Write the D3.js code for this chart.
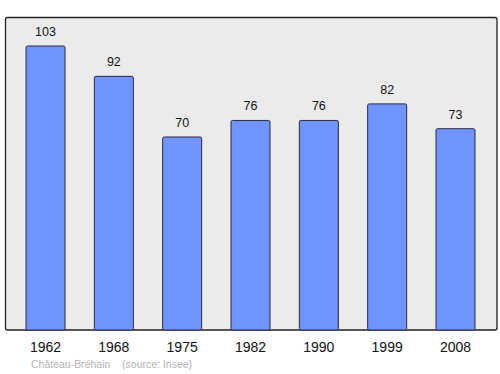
<!DOCTYPE html>
<html lang="fr">
<head>
  <meta charset="UTF-8" />
  <title>Château-Bréhain population</title>
  <script src="https://d3js.org/d3.v7.min.js"></script>
  <style>
    body { margin: 0; background: #fff; font-family: "Liberation Sans", Arial, sans-serif; }
    svg { display: block; }
  </style>
</head>
<body>
<svg id="chart" width="500" height="374"></svg>
<script>
const years = ["1962", "1968", "1975", "1982", "1990", "1999", "2008"];
const population = [103, 92, 70, 76, 76, 82, 73];

const svg = d3.select("#chart");

// plot frame
const frame = { left: 5.5, top: 17.5, right: 497, bottom: 330 };

svg.append("rect")
  .attr("x", frame.left)
  .attr("y", frame.top)
  .attr("width", frame.right - frame.left)
  .attr("height", frame.bottom - frame.top)
  .attr("rx", 2)
  .attr("fill", "#ebebeb")
  .attr("stroke", "#222")
  .attr("stroke-width", 1.3);

const x = d3.scalePoint().domain(years).range([45.5, 455.5]);
const y = d3.scaleLinear().domain([0, 103]).range([frame.bottom, 46]);
const barW = 39;

const data = years.map((yr, i) => ({ year: yr, value: population[i] }));

svg.selectAll(".bar")
  .data(data)
  .enter()
  .append("rect")
  .attr("class", "bar")
  .attr("x", d => x(d.year) - barW / 2)
  .attr("y", d => y(d.value))
  .attr("width", barW)
  .attr("height", d => y(0) - y(d.value))
  .attr("rx", 1.5)
  .attr("fill", "#7094ff")
  .attr("stroke", "#2a2a3a")
  .attr("stroke-width", 1);

svg.selectAll(".val")
  .data(data)
  .enter()
  .append("text")
  .attr("class", "val")
  .attr("x", d => x(d.year))
  .attr("y", d => y(d.value) - 10)
  .attr("text-anchor", "middle")
  .attr("font-size", 12.5)
  .attr("fill", "#111")
  .text(d => d.value);

svg.selectAll(".yr")
  .data(years)
  .enter()
  .append("text")
  .attr("class", "yr")
  .attr("x", d => x(d))
  .attr("y", 352)
  .attr("text-anchor", "middle")
  .attr("font-size", 14)
  .attr("fill", "#111")
  .text(d => d);

svg.append("text")
  .attr("x", 31)
  .attr("y", 368)
  .attr("font-size", 10.5)
  .attr("fill", "#b4b4b4")
  .attr("xml:space", "preserve")
  .text("Château-Bréhain    (source: Insee)");
</script>
</body>
</html>
